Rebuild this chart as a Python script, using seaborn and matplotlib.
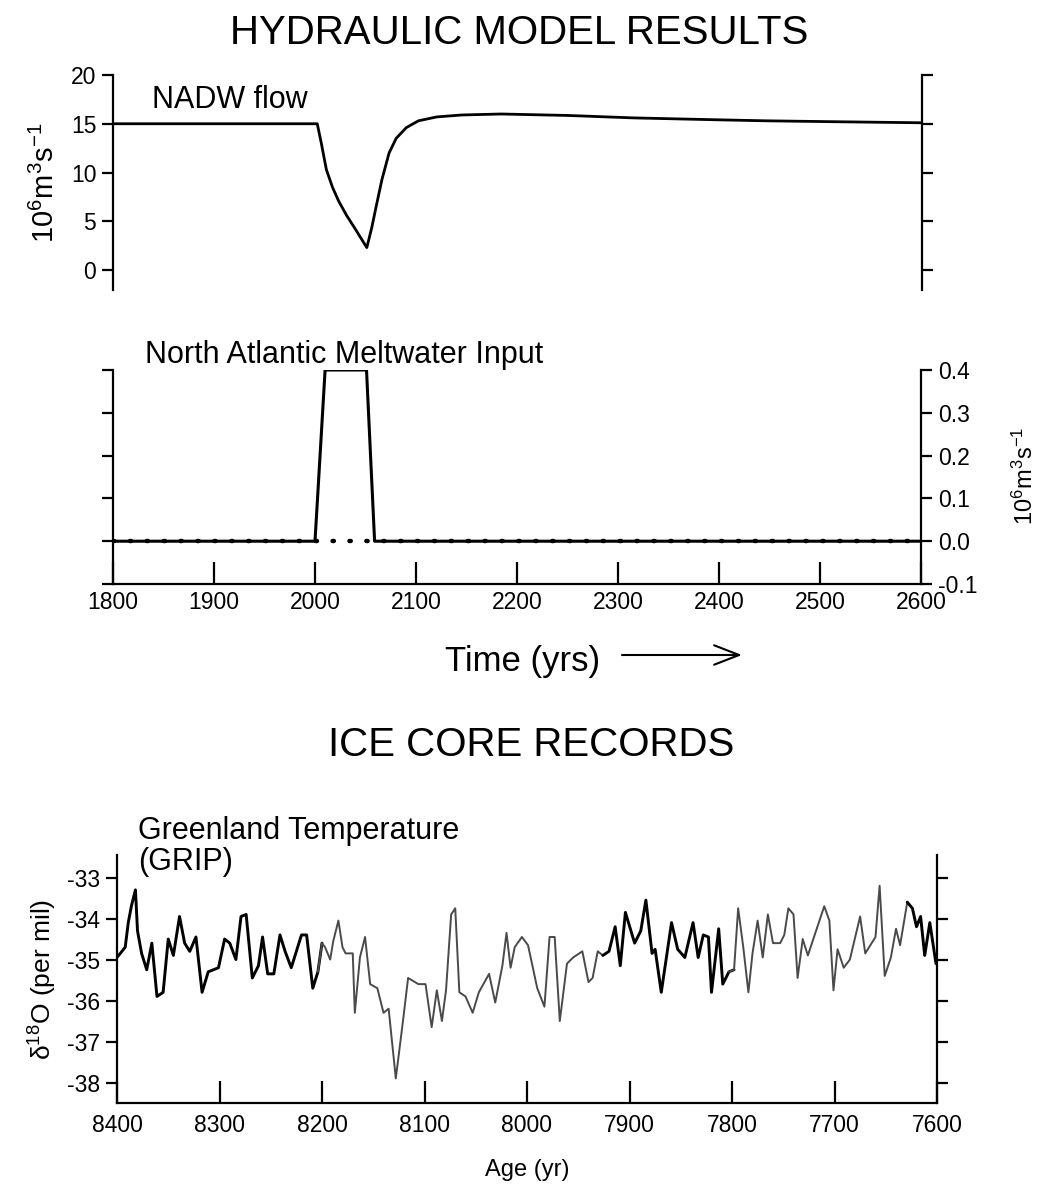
import numpy as np
import pandas as pd
import matplotlib
matplotlib.use("Agg")
import matplotlib.pyplot as plt
from matplotlib.patches import ArrowStyle
import seaborn as sns

# ---------------- data ----------------
nadw_year = [1800, 2002, 2006, 2011, 2017, 2023, 2031, 2039, 2051, 2056, 2060, 2066,
             2073, 2080, 2090, 2102, 2120, 2145, 2184, 2250, 2315, 2400, 2447, 2520, 2600]
nadw_flow = [15, 15, 13.0, 10.3, 8.5, 7.1, 5.6, 4.3, 2.3, 4.4, 6.4, 9.3,
             12.0, 13.5, 14.6, 15.3, 15.7, 15.9, 16.0, 15.85, 15.6, 15.4, 15.3, 15.2, 15.1]

melt_year = [1800, 2000, 2010, 2051, 2059, 2600]
melt_flux = [0.0, 0.0, 0.4, 0.4, 0.0, 0.0]

grip_age = [8400, 8392, 8389, 8386, 8382, 8380, 8376, 8371, 8366, 8361, 8355, 8350, 8345,
            8339, 8334, 8329, 8323, 8317, 8311, 8301, 8295, 8290, 8284, 8279, 8274, 8268,
            8262, 8258, 8253, 8247, 8241, 8236, 8230, 8225, 8220, 8215, 8209, 8204, 8200,
            8197, 8192, 8189, 8184, 8180, 8177, 8170, 8168, 8163, 8158, 8153, 8146, 8140,
            8135, 8128, 8121, 8116, 8106, 8099, 8093, 8088, 8083, 8079, 8074, 8070, 8066,
            8060, 8053, 8047, 8037, 8031, 8024, 8020, 8016, 8012, 8005, 7999, 7990, 7983,
            7978, 7973, 7968, 7961, 7955, 7946, 7940, 7936, 7931, 7926, 7920, 7914, 7909,
            7904, 7895, 7889, 7884, 7878, 7875, 7869, 7859, 7853, 7846, 7838, 7833, 7828,
            7823, 7820, 7813, 7809, 7803, 7798, 7794, 7789, 7784, 7780, 7775, 7770, 7765,
            7760, 7753, 7749, 7745, 7740, 7736, 7731, 7726, 7710, 7705, 7701, 7697, 7691,
            7685, 7675, 7670, 7660, 7656, 7651, 7645, 7640, 7636, 7629, 7624, 7620, 7616,
            7612, 7607, 7601]
grip_d18o = [-34.95, -34.7, -34.1, -33.7, -33.3, -34.3, -34.85, -35.25, -34.6, -35.9, -35.8,
             -34.5, -34.9, -33.95, -34.6, -34.8, -34.45, -35.8, -35.3, -35.2, -34.5, -34.6,
             -35.0, -33.95, -33.9, -35.45, -35.15, -34.45, -35.35, -35.35, -34.4, -34.8,
             -35.2, -34.8, -34.4, -34.4, -35.7, -35.3, -34.6, -34.7, -35.0, -34.55, -34.05,
             -34.7, -34.85, -34.85, -36.3, -34.95, -34.45, -35.6, -35.7, -36.3, -36.2, -37.9,
             -36.5, -35.45, -35.6, -35.6, -36.65, -35.75, -36.5, -35.75, -33.9, -33.75, -35.8,
             -35.9, -36.3, -35.8, -35.35, -36.05, -35.15, -34.35, -35.2, -34.7, -34.45, -34.65,
             -35.7, -36.15, -34.45, -34.45, -36.5, -35.1, -34.95, -34.8, -35.55, -35.45, -34.8,
             -34.9, -34.8, -34.2, -35.15, -33.85, -34.6, -34.3, -33.55, -34.85, -34.75, -35.8,
             -34.1, -34.75, -34.95, -34.1, -34.95, -34.4, -34.45, -35.8, -34.25, -35.6, -35.3,
             -35.25, -33.75, -34.7, -35.8, -34.85, -34.05, -34.95, -33.9, -34.6, -34.6, -34.4,
             -33.75, -33.9, -35.45, -34.5, -34.9, -33.7, -34.05, -35.75, -34.75, -35.2, -35.0,
             -33.95, -34.85, -34.45, -33.2, -35.4, -34.95, -34.25, -34.65, -33.6, -33.75,
             -34.2, -33.95, -34.9, -34.1, -35.1]

top_yticks = [0, 5, 10, 15, 20]
mid_yticks = [-0.1, 0.0, 0.1, 0.2, 0.3, 0.4]
mid_xticks = [1800, 1900, 2000, 2100, 2200, 2300, 2400, 2500, 2600]
bot_yticks = [-38, -37, -36, -35, -34, -33]
bot_xticks = [8400, 8300, 8200, 8100, 8000, 7900, 7800, 7700, 7600]
gray_spans = [(8200, 7931), (7799, 7634)]   # faint parts of the printed curve

# ---------------- style ----------------
sns.set_theme(style="ticks")
plt.rcParams["font.family"] = ["Liberation Sans", "DejaVu Sans"]
plt.rcParams["mathtext.fontset"] = "custom"
plt.rcParams["mathtext.rm"] = "Liberation Sans"
plt.rcParams["mathtext.it"] = "Liberation Sans:italic"
plt.rcParams["mathtext.bf"] = "Liberation Sans:bold"
plt.rcParams["axes.linewidth"] = 1.6
plt.rcParams["axes.edgecolor"] = "black"
plt.rcParams["axes.unicode_minus"] = False
for k in ["text.color", "axes.labelcolor", "xtick.color", "ytick.color",
          "xtick.labelcolor", "ytick.labelcolor"]:
    plt.rcParams[k] = "black"

W, H = 1039, 1191
fig = plt.figure(figsize=(W / 100, H / 100), dpi=100)
fig.patch.set_facecolor("white")


def axes_px(left, top, right, bottom):
    return fig.add_axes([left / W, 1 - bottom / H, (right - left) / W, (bottom - top) / H])


def fx(x):
    return x / W


def fy(y):
    return 1 - y / H


TICK_FS = 16.5
unit = r"$\mathregular{10^6m^3s^{-1}}$"

# ---------- top panel: NADW flow ----------
ax1 = axes_px(113, 75, 922, 290)
df1 = pd.DataFrame({"year": nadw_year, "flow": nadw_flow})
sns.lineplot(data=df1, x="year", y="flow", ax=ax1, color="black", lw=2.0, estimator=None)
ax1.set_xlim(1800, 2600)
ax1.set_ylim(-2.05, 20)
ax1.set_yticks(top_yticks)
ax1.spines["top"].set_visible(False)
ax1.spines["bottom"].set_visible(False)
ax1.spines["right"].set_visible(True)
ax1.tick_params(axis="x", bottom=False, labelbottom=False)
ax1.tick_params(axis="y", left=True, right=True, direction="out", length=8, width=1.6,
                labelleft=True, labelright=False, labelsize=TICK_FS, pad=4)
ax1.set_xlabel("")
ax1.set_ylabel(unit, fontsize=21, labelpad=8)

# ---------- middle panel: meltwater ----------
ax2 = axes_px(113, 370, 921, 584)
df2 = pd.DataFrame({"year": melt_year, "flux": melt_flux})
ax2.axhline(0, color="black", lw=3.2, linestyle=(0, (0.3, 3.5)), dash_capstyle="round", zorder=1)
sns.lineplot(data=df2, x="year", y="flux", ax=ax2, color="black", lw=2.2, estimator=None,
             sort=False, zorder=3)
ax2.set_xlim(1800, 2600)
ax2.set_ylim(-0.1, 0.4)
ax2.set_xticks(mid_xticks)
ax2.set_yticks(mid_yticks)
ax2.set_yticklabels([f"{v:.1f}" for v in mid_yticks])
ax2.spines["top"].set_visible(False)
ax2.spines["right"].set_visible(True)
ax2.tick_params(axis="x", direction="in", length=16, width=1.6, labelsize=TICK_FS, pad=5)
ax2.tick_params(axis="y", left=True, right=True, direction="out", length=8, width=1.6,
                labelleft=False, labelright=True, labelsize=TICK_FS, pad=4)
ax2.set_xlabel("")
ax2.set_ylabel("")
fig.text(fx(1025), fy(476), unit, rotation=90, ha="center", va="center", fontsize=17)

# ---------- bottom panel: GRIP ----------
ax3 = axes_px(117, 855, 937, 1103)
age = np.array(grip_age, dtype=float)
val = np.array(grip_d18o, dtype=float)
gray = np.zeros(len(age), dtype=bool)
for a0, a1 in gray_spans:
    gray |= (age <= a0) & (age >= a1)
idx = 0
while idx < len(age):
    j = idx
    while j + 1 < len(age) and gray[j + 1] == gray[idx]:
        j += 1
    lo = max(idx - 1, 0) if gray[idx] else idx
    hi = min(j + 1, len(age) - 1)
    seg = pd.DataFrame({"age": age[lo:hi + 1], "d18o": val[lo:hi + 1]})
    if gray[idx]:
        sns.lineplot(data=seg, x="age", y="d18o", ax=ax3, color="#4a4a4a", lw=1.4,
                     estimator=None, sort=False)
    else:
        sns.lineplot(data=seg, x="age", y="d18o", ax=ax3, color="black", lw=2.1,
                     estimator=None, sort=False)
    idx = j + 1
ax3.set_xlim(8400, 7600)
ax3.set_ylim(-38.5, -32.45)
ax3.set_xticks(bot_xticks)
ax3.set_yticks(bot_yticks)
ax3.spines["top"].set_visible(False)
ax3.spines["right"].set_visible(True)
ax3.tick_params(axis="x", direction="in", length=16, width=1.6, labelsize=TICK_FS, pad=8)
ax3.tick_params(axis="y", left=True, right=True, direction="out", length=8, width=1.6,
                labelleft=True, labelright=False, labelsize=TICK_FS, pad=4)
ax3.set_xlabel("Age (yr)", fontsize=17, labelpad=16)
ax3.set_ylabel(r"δ$^{18}$O (per mil)", fontsize=19, labelpad=6)

# ---------- titles and panel texts ----------
fig.text(0.5, fy(33), "HYDRAULIC MODEL RESULTS", ha="center", va="center", fontsize=29)
fig.text(fx(531), fy(745), "ICE CORE RECORDS", ha="center", va="center", fontsize=29)
fig.text(fx(152), fy(100), "NADW flow", ha="left", va="center", fontsize=22)
fig.text(fx(145), fy(355), "North Atlantic Meltwater Input", ha="left", va="center", fontsize=22)
fig.text(fx(138), fy(831), "Greenland Temperature", ha="left", va="center", fontsize=22)
fig.text(fx(138), fy(862), "(GRIP)", ha="left", va="center", fontsize=22)
fig.text(fx(445), fy(661), "Time (yrs)", ha="left", va="center", fontsize=25)
ax2.annotate("", xy=(fx(742), fy(655)), xytext=(fx(622), fy(655)),
             xycoords="figure fraction", textcoords="figure fraction",
             arrowprops=dict(arrowstyle=ArrowStyle("->", head_length=0.9, head_width=0.35),
                             mutation_scale=20, lw=1.5, color="black", shrinkA=0, shrinkB=0),
             annotation_clip=False)

fig.savefig("out.png", dpi=100)
